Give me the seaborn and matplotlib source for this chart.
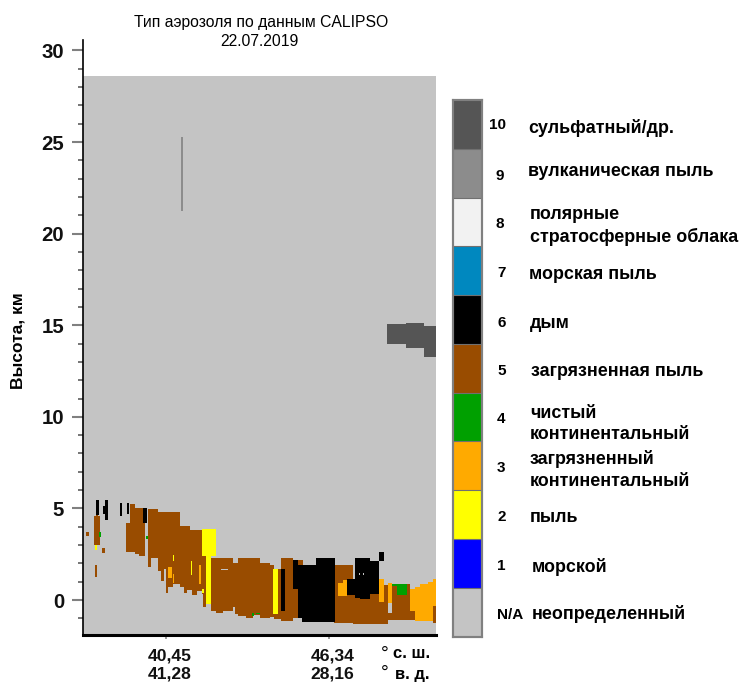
import numpy as np
import seaborn as sns
import matplotlib.pyplot as plt
from matplotlib.colors import ListedColormap
from matplotlib.transforms import ScaledTranslation

# aerosol type codes, N/A first
type_names = ["неопределенный", "морской", "пыль", "загрязненный\nконтинентальный",
              "чистый\nконтинентальный", "загрязненная пыль", "дым", "морская пыль",
              "полярные\nстратосферные облака", "вулканическая пыль", "сульфатный/др."]
type_codes = ["N/A", "1", "2", "3", "4", "5", "6", "7", "8", "9", "10"]
type_colors = ["#C4C4C4", "#0000FF", "#FFFF00", "#FFAA00", "#00A000", "#994C00",
               "#000000", "#0088BF", "#F2F2F2", "#8C8C8C", "#555555"]

# layers: (first profile, last profile, bottom km, top km)
polluted_dust = [
    (3, 6, 3.45, 3.7), (11, 17, 3.0, 4.55), (13, 15, 4.5, 5.4), (19, 22, 2.55, 2.8), (12, 14, 1.27, 1.9),
    (43, 47, 2.6, 4.2), (47, 52, 2.6, 5.2), (52, 56, 2.5, 5.0), (56, 62, 2.4, 5.0),
    (65, 68, 1.8, 4.95), (68, 75, 2.27, 4.95), (75, 78, 1.55, 4.8), (78, 81, 1.0, 4.8),
    (81, 83, 1.7, 4.8), (83, 85, 0.36, 4.8), (85, 90, 0.73, 4.8), (90, 97, 0.87, 4.8),
    (97, 101, 0.73, 4.0), (101, 104, 0.36, 4.0), (104, 107, 0.55, 4.0), (107, 109, 0.55, 3.8),
    (109, 114, 0.27, 3.8), (114, 119, 0.45, 3.8), (119, 123, 0.3, 3.8),
    (120, 123, -0.4, 2.6), (128, 133, -0.6, 2.33), (133, 140, -0.7, 2.33), (140, 150, -0.6, 2.33),
    (150, 152, -0.4, 2.0), (152, 155, -0.8, 2.0), (155, 163, -0.9, 2.3), (163, 170, -1.0, 2.3),
    (170, 177, -0.85, 2.25), (177, 187, -1.0, 2.03), (187, 191, -0.95, 1.9), (191, 198, -1.05, 1.67),
    (198, 210, -1.15, 2.33), (210, 220, -1.0, 2.15), (220, 251, -1.18, 1.9), (251, 270, -1.25, 1.9),
    (270, 290, -1.35, 1.0), (290, 305, -1.3, 0.8), (305, 309, -1.1, 0.4), (309, 327, -1.1, 0.87),
    (327, 332, -1.1, 0.6), (350, 353, -1.23, -0.33),
]
smoke = [
    (13, 16, 4.6, 5.45), (22, 25, 4.35, 5.45), (20, 22, 4.7, 5.1), (37, 39, 4.55, 5.3),
    (44, 46, 4.7, 5.3), (60, 64, 4.2, 5.0), (198, 202, -0.58, 1.67), (215, 219, -1.0, 1.9),
    (210, 215, 0.6, 2.15), (219, 233, -1.18, 1.9), (233, 252, -1.18, 2.33),
    (264, 272, 0.27, 1.17), (272, 277, 0.1, 2.27), (277, 287, 0.05, 2.27), (287, 296, 0.3, 2.1),
    (296, 301, 2.1, 2.63), (287, 296, 1.6, 2.1),
]
orange = [
    (85, 89, 1.2, 1.8), (90, 91, 0.9, 1.4), (116, 118, 0.87, 1.9), (255, 264, 0.2, 0.9),
    (260, 264, 0.9, 1.12), (296, 301, -0.15, 1.16), (305, 309, -0.2, 0.9),
    (327, 332, -0.6, 0.6), (332, 337, -1.15, 0.72), (337, 345, -1.15, 0.85),
    (345, 350, -1.15, 0.98), (350, 353, -0.33, 1.18),
]
yellow = [
    (12, 14, 2.7, 3.0), (90, 91, 2.1, 2.45), (108, 109, 1.35, 2.1), (119, 121, 0.35, 0.6),
    (119, 133, 2.4, 3.85), (123, 128, -0.25, 2.4), (190, 195, -0.78, 1.73),
]
green = [
    (16, 18, 3.4, 3.7), (63, 65, 3.3, 3.5), (169, 171, -0.9, -0.7), (173, 177, -0.8, -0.7),
    (309, 324, 0.75, 0.87), (314, 324, 0.27, 0.75),
]
sulfate = [(304, 323, 13.95, 15.05), (323, 341, 13.75, 15.1), (341, 353, 13.27, 14.96)]
volcanic = [(98, 100, 21.2, 25.26)]
undefined = [(138, 145, 1.6, 1.7), (276, 277, 1.35, 1.45), (280, 281, 1.35, 1.45), (305, 309, -0.7, -0.2)]

n_profiles = 353
km_min, km_max, km_step = -1.88, 30.55, 0.05
curtain_top = 28.6
km_ticks = [0, 5, 10, 15, 20, 25, 30]
lat_labels = ["40,45", "46,34"]
lon_labels = ["41,28", "28,16"]
geo_profiles = [82, 245]


def row(km):
    return int(round((km - km_min) / km_step))


n_rows = row(km_max)
grid = np.full((n_rows, n_profiles), np.nan)
grid[:row(curtain_top), :] = 0

# later layers sit on top of earlier ones
layers = [(polluted_dust, 5), (yellow, 2), (orange, 3), (smoke, 6), (green, 4),
          (sulfate, 10), (volcanic, 9), (undefined, 0)]
for segs, code in layers:
    for x0, x1, bot, top in segs:
        grid[row(bot):row(top), x0:x1] = code

plt.rcParams["font.family"] = ["Liberation Sans", "DejaVu Sans"]
fig = plt.figure(figsize=(7.43, 6.83), dpi=100)
W, H = 743, 683
ax = fig.add_axes([83 / W, 1 - 634.5 / H, 353 / W, 594.5 / H])
cax = fig.add_axes([453 / W, 1 - 636.5 / H, 29 / W, 536.5 / H])

sns.heatmap(grid, ax=ax, cbar_ax=cax, cmap=ListedColormap(type_colors), vmin=-0.5, vmax=10.5,
            xticklabels=False, yticklabels=False, cbar_kws={"ticks": []})
ax.invert_yaxis()
ax.set_ylim(0, n_rows)

# axes, sizes below are px * 0.72
for side in ["top", "right"]:
    ax.spines[side].set_visible(False)
ax.spines["left"].set_visible(True)
ax.spines["left"].set_linewidth(1.2)
ax.spines["bottom"].set_visible(True)
ax.spines["bottom"].set_linewidth(2.2)

ax.set_yticks([(k - km_min) / km_step for k in km_ticks])
ax.set_yticklabels(km_ticks, fontsize=14.7, fontweight="bold", color="#111111")
ax.set_yticks([(k - km_min) / km_step for k in range(-1, 31) if k % 5], minor=True)
ax.tick_params(axis="y", which="major", length=8, width=1.5, color="#808080", pad=5.5, labelrotation=0)
ax.tick_params(axis="y", which="minor", length=3.6, width=1.1, color="#505050")
ax.set_xticks([p + 0.5 for p in geo_profiles])
ax.set_xticklabels([a + "\n" + b for a, b in zip(lat_labels, lon_labels)],
                   fontsize=12.6, fontweight="bold", linespacing=1.25, color="#111111")
ax.tick_params(axis="x", length=3, width=1.1, color="#808080", pad=7)
# labels sit a little right of their ticks
for lbl in ax.get_xticklabels():
    lbl.set_transform(lbl.get_transform() + ScaledTranslation(4 / 100, 0, fig.dpi_scale_trans))

fig.text(18 / W, 1 - 341 / H, "Высота, км", fontsize=12.5, fontweight="bold", rotation=90,
         ha="center", va="center")
fig.text(261 / W, 1 - 22 / H, "Тип аэрозоля по данным CALIPSO", fontsize=11.3, ha="center", va="center")
fig.text(259 / W, 1 - 42 / H, "22.07.2019", fontsize=11.3, ha="center", va="center")

# geo units next to the tick labels
fig.text(393 / W, 1 - 653 / H, "с. ш.", fontsize=12, fontweight="bold", va="center")
fig.text(395 / W, 1 - 675 / H, "в. д.", fontsize=12, fontweight="bold", va="center")
fig.text(385 / W, 1 - 654 / H, "°", fontsize=14, ha="center", va="center")
fig.text(385 / W, 1 - 673 / H, "°", fontsize=14, ha="center", va="center")

# colour bar legend
for side in cax.spines.values():
    side.set_visible(True)
    side.set_edgecolor("#808080")
    side.set_linewidth(1.5)
cax.hlines(np.arange(0.5, 10.5), -0.5, 10.5, color="#707070", lw=0.8)

code_x = [497, 497, 497, 497, 497, 497, 497, 497, 496, 496, 489]
code_y = [615, 566, 517, 468, 419, 371, 323, 273, 224, 176, 125]
name_x = [532, 532, 530, 530, 530, 531, 530, 529, 530, 528, 528]
name_y = [614, 567, 517, 470, 424, 371, 323, 274, 226, 171, 128]
for code, name, cx, cy, nx, ny in zip(type_codes, type_names, code_x, code_y, name_x, name_y):
    fig.text(cx / W, 1 - cy / H, code, fontsize=11, fontweight="bold", va="center")
    fig.text(nx / W, 1 - ny / H, name, fontsize=12.9, fontweight="bold", va="center", linespacing=1.33)

fig.savefig("out.png", dpi=100)
